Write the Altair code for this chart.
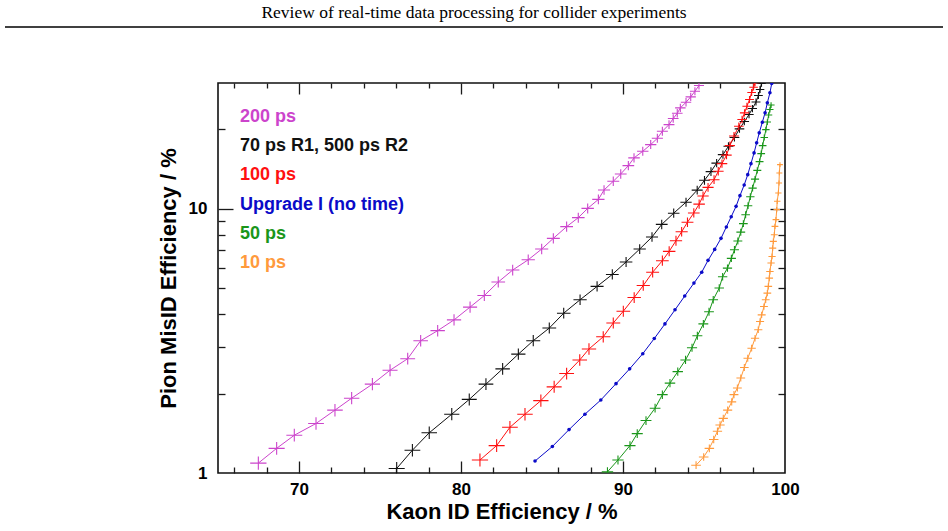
import altair as alt
import pandas as pd

# ---- series: kaon ID efficiency (%) vs pion mis-ID efficiency (%) ----
names = ["200 ps", "70 ps R1, 500 ps R2", "100 ps", "Upgrade I (no time)", "50 ps", "10 ps"]
colors = ["#cc44cc", "#111111", "#ff1010", "#0a0ac8", "#1a961a", "#ff9a3c"]

kaon_200 = [67.49, 68.62, 69.71, 71.05, 72.22, 73.25, 74.53, 75.62, 76.71, 77.51,
            78.56, 79.57, 80.56, 81.44, 82.30, 83.19, 84.15, 84.98, 85.70, 86.52,
            87.24, 87.82, 88.48, 88.83, 89.40, 89.86, 90.33, 90.68, 91.22, 91.71,
            92.12, 92.43, 92.84, 93.10, 93.35, 93.54, 93.89, 94.18, 94.44, 94.69]
pion_200 = [1.09, 1.24, 1.39, 1.54, 1.73, 1.92, 2.17, 2.45, 2.71, 3.17,
            3.46, 3.80, 4.25, 4.70, 5.29, 5.87, 6.42, 7.05, 7.74, 8.57,
            9.27, 10.05, 10.87, 11.80, 12.73, 13.57, 14.59, 15.61, 16.54, 17.53,
            18.52, 19.70, 20.87, 22.00, 23.04, 24.15, 25.36, 26.59, 27.92, 29.35]

kaon_70 = [76.03, 77.00, 78.04, 79.43, 80.51, 81.54, 82.57, 83.54, 84.46, 85.45,
           86.34, 87.35, 88.40, 89.34, 90.19, 91.03, 91.79, 92.39, 93.13, 93.89,
           94.58, 95.03, 95.43, 95.78, 96.17, 96.51, 96.88, 97.19, 97.49, 97.78,
           97.99, 98.21, 98.36, 98.46, 98.55]
pion_70 = [1.04, 1.22, 1.42, 1.67, 1.90, 2.17, 2.48, 2.82, 3.17, 3.54,
           4.03, 4.53, 5.09, 5.65, 6.30, 7.05, 7.83, 8.74, 9.64, 10.61,
           11.79, 12.84, 13.85, 14.92, 16.07, 17.28, 18.64, 20.11, 21.43, 22.79,
           24.01, 25.41, 26.90, 28.35, 29.87]

kaon_100 = [81.17, 82.20, 83.02, 83.95, 84.93, 85.75, 86.52, 87.33, 87.90, 88.78,
            89.40, 90.02, 90.69, 91.25, 91.83, 92.43, 92.85, 93.27, 93.62, 93.98,
            94.37, 94.70, 94.94, 95.25, 95.62, 95.88, 96.11, 96.39, 96.60, 96.85,
            97.15, 97.35, 97.50, 97.65, 97.81, 97.94, 98.06, 98.15]
pion_100 = [1.12, 1.27, 1.49, 1.67, 1.88, 2.12, 2.38, 2.68, 2.95, 3.28,
            3.70, 4.10, 4.62, 5.13, 5.76, 6.37, 6.91, 7.58, 8.20, 8.91,
            9.66, 10.43, 11.20, 12.07, 12.91, 13.89, 14.85, 16.00, 17.38, 18.89,
            20.57, 21.81, 23.12, 24.49, 25.97, 27.61, 28.92, 30.05]

kaon_up1 = [84.57, 85.64, 86.67, 87.65, 88.63, 89.57, 90.41, 91.22, 91.93, 92.59,
            93.21, 93.81, 94.38, 94.86, 95.25, 95.66, 96.05, 96.38, 96.68, 96.98,
            97.22, 97.48, 97.70, 97.90, 98.09, 98.25, 98.41, 98.60, 98.77, 98.91,
            99.07, 99.18]
pion_up1 = [1.11, 1.26, 1.46, 1.67, 1.89, 2.18, 2.48, 2.83, 3.23, 3.67,
            4.15, 4.68, 5.24, 5.76, 6.39, 7.03, 7.74, 8.55, 9.35, 10.23,
            11.23, 12.33, 13.49, 14.85, 16.31, 17.80, 19.42, 21.30, 23.12, 25.23,
            27.54, 29.87]

kaon_50 = [89.04, 89.69, 90.43, 90.88, 91.42, 91.98, 92.43, 92.90, 93.38, 93.86,
           94.26, 94.59, 94.96, 95.31, 95.57, 95.94, 96.15, 96.45, 96.69, 96.88,
           97.09, 97.27, 97.43, 97.57, 97.72, 97.86, 98.00, 98.15, 98.29, 98.43,
           98.53, 98.62, 98.72, 98.82, 98.91, 98.99, 99.07, 99.14]
pion_50 = [1.01, 1.12, 1.27, 1.41, 1.58, 1.76, 1.98, 2.19, 2.42, 2.68,
           2.98, 3.31, 3.67, 4.08, 4.53, 5.02, 5.54, 5.97, 6.50, 7.01,
           7.56, 8.17, 8.80, 9.51, 10.29, 11.13, 11.99, 12.97, 14.00, 15.11,
           16.21, 17.38, 18.64, 19.98, 21.34, 22.69, 23.80, 24.75]

kaon_10 = [94.51, 94.98, 95.33, 95.60, 95.83, 95.99, 96.19, 96.46, 96.71, 96.85,
           97.06, 97.27, 97.49, 97.70, 97.94, 98.15, 98.35, 98.46, 98.56, 98.70,
           98.81, 98.91, 98.97, 99.03, 99.07, 99.14, 99.20, 99.24, 99.28, 99.34,
           99.38, 99.44, 99.49, 99.52, 99.59, 99.63, 99.65, 99.69]
pion_10 = [1.07, 1.15, 1.24, 1.34, 1.44, 1.52, 1.61, 1.73, 1.86, 1.98,
           2.10, 2.29, 2.51, 2.72, 2.97, 3.24, 3.49, 3.75, 3.97, 4.27,
           4.53, 4.80, 5.09, 5.47, 5.80, 6.24, 6.61, 7.11, 7.54, 7.99,
           8.59, 9.11, 9.94, 10.69, 11.50, 12.55, 13.69, 14.72]

x_major = [70, 80, 90]
x_minor = [66, 68, 72, 74, 76, 78, 82, 84, 86, 88, 92, 94, 96, 98]
y_major = [10]
y_minor = [2, 3, 4, 5, 6, 7, 8, 9, 20]

header = "Review of real-time data processing for collider experiments"

# ---- long table ----
curves = [(kaon_200, pion_200), (kaon_70, pion_70), (kaon_100, pion_100),
          (kaon_up1, pion_up1), (kaon_50, pion_50), (kaon_10, pion_10)]
rows = []
for name, (ks, ps) in zip(names, curves):
    for i, (k, p) in enumerate(zip(ks, ps)):
        rows.append({"series": name, "kaon": k, "pion": p, "idx": i})
df = pd.DataFrame(rows)

W, H = 567, 390
SANS = "Liberation Sans"
TICK = "#1a1a1a"
BLUE = "Upgrade I (no time)"

x_scale = alt.Scale(domain=[65, 100], nice=False, zero=False)
y_scale = alt.Scale(type="log", domain=[1, 30], nice=False)
color_scale = alt.Scale(domain=names, range=colors)

# cross marker (error-bar look): area range shrinks as the mis-ID rate grows
CROSS = "M-1,0L1,0M0,-0.8L0,0.8"
cross_range = {
    "200 ps": [270, 100],
    "70 ps R1, 500 ps R2": [260, 70],
    "100 ps": [270, 70],
    "50 ps": [130, 45],
    "10 ps": [95, 18],
}


def tick_axis(orient, values, size):
    off = -H if orient in ("top", "bottom") else -W
    return alt.Axis(orient=orient, values=values, tickSize=size, offset=off,
                    labels=False, domain=False, grid=False, title=None,
                    ticks=True, tickColor=TICK, tickWidth=1.3)


def enc(chart, xaxis, yaxis):
    return chart.encode(
        x=alt.X("kaon:Q", scale=x_scale, axis=xaxis),
        y=alt.Y("pion:Q", scale=y_scale, axis=yaxis),
        color=alt.Color("series:N", scale=color_scale, legend=None),
    )


x_label_axis = alt.Axis(
    values=[70, 80, 90, 100], ticks=False, tickSize=0, domain=False, grid=False,
    labelFont=SANS, labelFontSize=17, labelFontWeight="bold", labelColor="black",
    labelPadding=8, labelFlush=False, labelOverlap=False,
    title="Kaon ID Efficiency / %", titleFont=SANS, titleFontSize=22,
    titleFontWeight="bold", titleColor="black", titleX=W / 2, titleY=38,
    titleBaseline="middle", titleAlign="center",
)
y_label_axis = alt.Axis(
    values=[1, 10], format="d", ticks=False, tickSize=0, domain=False, grid=False,
    labelFont=SANS, labelFontSize=17, labelFontWeight="bold", labelColor="black",
    labelPadding=11, labelFlush=False, labelOverlap=False,
    title="Pion MisID Efficiency / %", titleFont=SANS, titleFontSize=22,
    titleFontWeight="bold", titleColor="black", titleAngle=270,
    titleX=-50, titleY=H / 2, titleBaseline="middle", titleAlign="center",
)

lines = enc(
    alt.Chart(df).mark_line(strokeWidth=1, clip=True),
    x_label_axis, y_label_axis,
).encode(order="idx:Q")

cross_layers = []
for name, rng in cross_range.items():
    cross_layers.append(
        enc(
            alt.Chart(df).transform_filter(alt.datum.series == name)
            .mark_point(shape=CROSS, filled=False, strokeWidth=1.1, opacity=1, clip=True),
            None, None,
        ).encode(size=alt.Size("pion:Q", legend=None,
                               scale=alt.Scale(type="log", domain=[1, 30], range=rng)))
    )

dots = enc(
    alt.Chart(df).transform_filter(alt.datum.series == BLUE)
    .mark_circle(size=13, opacity=1, clip=True),
    None, None,
)

# inward ticks on all four sides of the frame
frame_ticks = [
    enc(alt.Chart(df).mark_point(opacity=0),
        tick_axis("top", x_major, 12), tick_axis("right", y_major, 15)),
    enc(alt.Chart(df).mark_point(opacity=0),
        tick_axis("top", x_minor, 6), tick_axis("right", y_minor, 7)),
    enc(alt.Chart(df).mark_point(opacity=0),
        tick_axis("bottom", x_major, 11), tick_axis("left", y_major, 15)),
    enc(alt.Chart(df).mark_point(opacity=0),
        tick_axis("bottom", x_minor, 5), tick_axis("left", y_minor, 7)),
]

# legend entries, stacked in the upper-left corner of the frame
legend_layers = []
for i, (name, col) in enumerate(zip(names, colors)):
    legend_layers.append(
        alt.Chart(pd.DataFrame({"label": [name]}))
        .mark_text(align="left", baseline="middle", font=SANS, fontSize=18,
                   fontWeight="bold", color=col)
        .encode(text="label:N", x=alt.value(22), y=alt.value(34 + i * 29.2))
    )

# running page header with its rule
head_text = (
    alt.Chart(pd.DataFrame({"t": [header]}))
    .mark_text(align="center", baseline="middle", font="Liberation Serif",
               fontSize=17.5, color="black")
    .encode(text="t:N", x=alt.value(474 - 218), y=alt.value(13 - 83))
)
head_rule = (
    alt.Chart(pd.DataFrame({"t": [0]}))
    .mark_rule(color="black", strokeWidth=1.3)
    .encode(x=alt.value(5 - 218), x2=alt.value(943 - 218), y=alt.value(27 - 83))
)

chart = (
    alt.layer(head_rule, head_text, lines, *cross_layers, dots, *frame_ticks,
              *legend_layers)
    .resolve_axis(x="independent", y="independent")
    .resolve_scale(size="independent")
    .properties(
        width=W, height=H,
        autosize=alt.AutoSizeParams(type="none"),
        padding={"left": 218, "top": 83, "right": 948 - 218 - W, "bottom": 531 - 83 - H},
        background="white",
    )
    .configure_view(stroke="#111111", strokeWidth=1.6)
)

chart.save("out.html", embed_options={"renderer": "svg", "actions": False})
